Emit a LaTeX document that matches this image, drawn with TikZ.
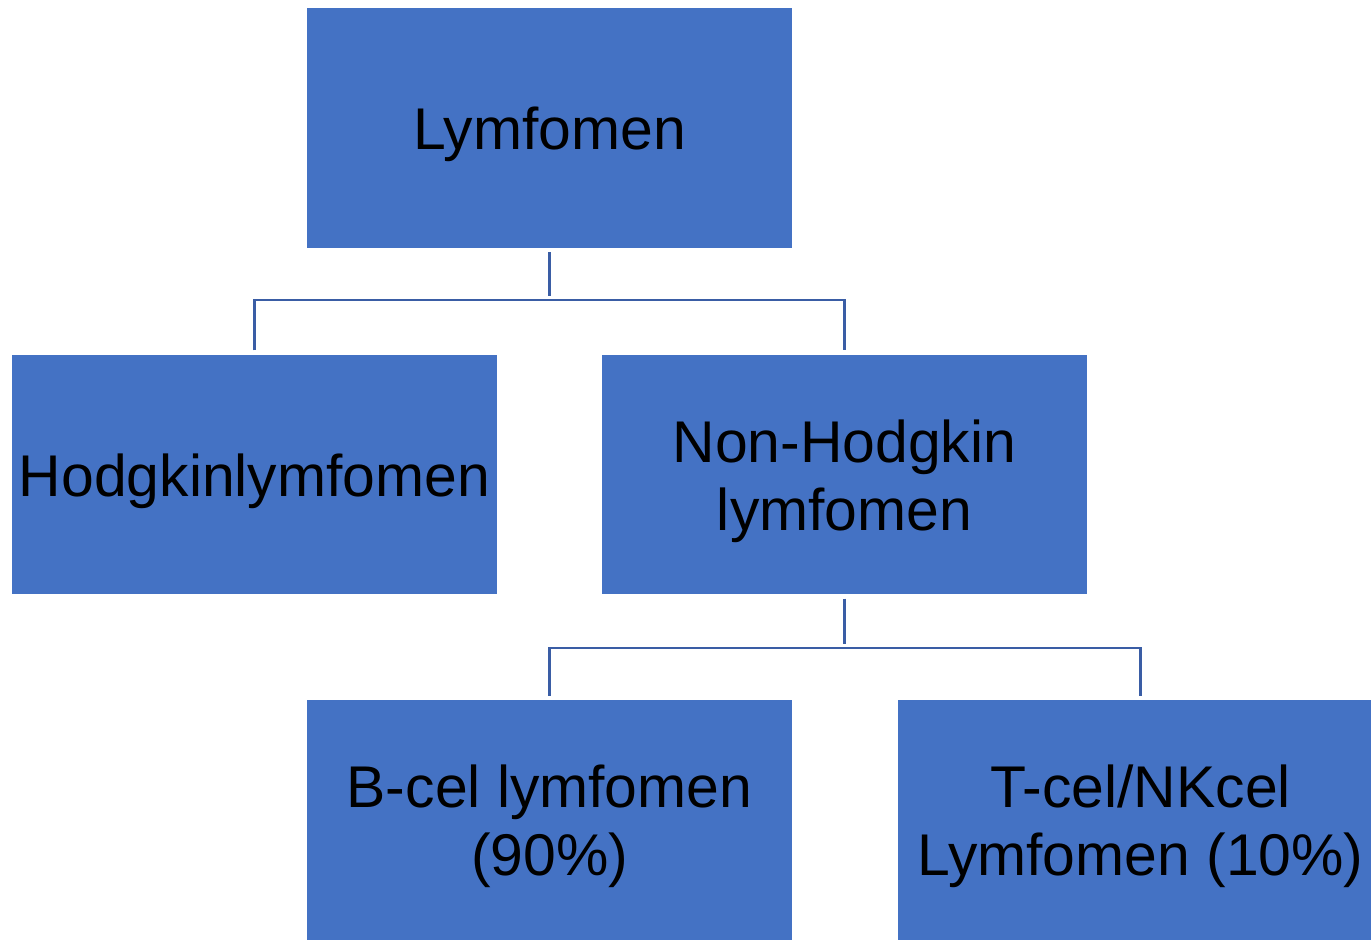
\documentclass[tikz,border=0pt]{standalone}
\usepackage{fontspec}
\setmainfont{Liberation Sans}
\definecolor{boxblue}{HTML}{4472C4}
\definecolor{linkblue}{HTML}{3A5DA5}
\tikzset{
  box/.style={rectangle, fill=boxblue, inner sep=0pt, outer sep=0pt,
    minimum width=9.7cm, minimum height=4.8cm},
  boxtext/.style={label={[align=center, yshift=-0.13cm,
    font=\fontsize{33.5}{38.5}\selectfont]center:#1}},
  link/.style={draw=linkblue, line width=1.2pt, shorten <=2.3pt, shorten >=2.3pt}
}
\begin{document}
\begin{tikzpicture}[x=0.02cm,y=-0.02cm]
        \useasboundingbox (0,0) rectangle (1371,939);
        \clip (0,0) rectangle (1371,939);
        \node[box, boxtext={Lymfomen}]  (L) at (549.5,128) {};
        \node[box, boxtext={Hodgkinlymfomen}]  (H) at (254.5,474.5) {};
        \node[box, boxtext={Non-Hodgkin\\lymfomen}]  (N) at (844.5,474.5) {};
        \node[box, boxtext={B-cel lymfomen\\(90\%)}]  (B) at (549.5,820) {};
        \node[box, boxtext={T-cel/NKcel\\Lymfomen (10\%)}]  (T) at (1140.5,820) {};
        
        \coordinate (J1) at (549.5,300);
        \coordinate (J2) at (844.5,648);
        
        \draw[link] (L.south) -- (J1);
        \draw[link] (H.north) |- (J1) -| (N.north);
        \draw[link] (N.south) -- (J2);
        \draw[link] (B.north) |- (J2) -| (T.north);
      \end{tikzpicture}
\end{document}
